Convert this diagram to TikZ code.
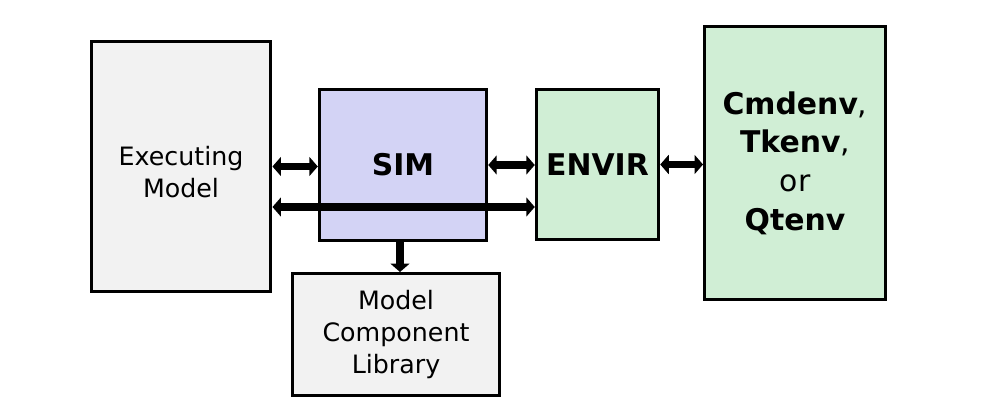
\documentclass[tikz,border=0pt]{standalone}
\usepackage{fontspec}
\setmainfont{DejaVu Sans}
\usepackage{xcolor}
\usetikzlibrary{arrows.meta,positioning}

\definecolor{boxgray}{HTML}{F2F2F2}
\definecolor{simblue}{HTML}{D3D3F5}
\definecolor{envgreen}{HTML}{D0EED5}

\tikzset{
  fat/.tip={Triangle[length=0.17cm, width=0.38cm]},
  block/.style={draw=black, line width=0.06cm, align=center, inner sep=0pt,
    font=\fontsize{14.4}{18.2}\selectfont},
  bigblock/.style={block, font=\fontsize{17}{22}\selectfont\bfseries},
  link/.style={line width=0.15cm, fat-fat},
}

\begin{document}
\begin{tikzpicture}[x=0.02cm, y=-0.02cm]
    % Fix the page size to the reference
    \useasboundingbox (0,0) rectangle (982,418);

    % Draw the blocks
    \node[block, fill=boxgray, minimum width=3.6cm, minimum height=5.0cm]
        (exec) at (181,166.5) {};
    \node at (181,172) [font=\fontsize{14.4}{18.2}\selectfont, align=center, inner sep=0pt]
        (execlabel) {Executing\\Model};
    \node[bigblock, fill=simblue, minimum width=3.35cm, minimum height=3.02cm]
        (sim) at (403,165) {SIM};
    \node[bigblock, fill=envgreen, minimum width=2.45cm, minimum height=3.0cm]
        (envir) at (597.5,164.5) {ENVIR};
    \node[bigblock, fill=envgreen, minimum width=3.62cm, minimum height=5.46cm]
        (ui) at (795,163) {Cmdenv\textmd{,}\\Tkenv\textmd{,}\\\textmd{or}\\Qtenv};
    \node[block, fill=boxgray, minimum width=4.14cm, minimum height=2.44cm]
        (lib) at (396,334.5) {Model\\Component\\Library};

    % Shared line below SIM
    \coordinate (bus) at (0,207);

    % Draw the connectors
    \draw[link] (exec.east) -- (exec.east -| sim.west);
    \draw[link] (sim.east) -- (sim.east -| envir.west);
    \draw[link] (envir.east) -- (envir.east -| ui.west);
    \draw[link] (exec.east |- bus) -- (envir.west |- bus);
    \draw[line width=0.15cm, -fat] ([xshift=-0.06cm]sim.south) -- ([xshift=-0.06cm]sim.south |- lib.north);
\end{tikzpicture}
\end{document}
